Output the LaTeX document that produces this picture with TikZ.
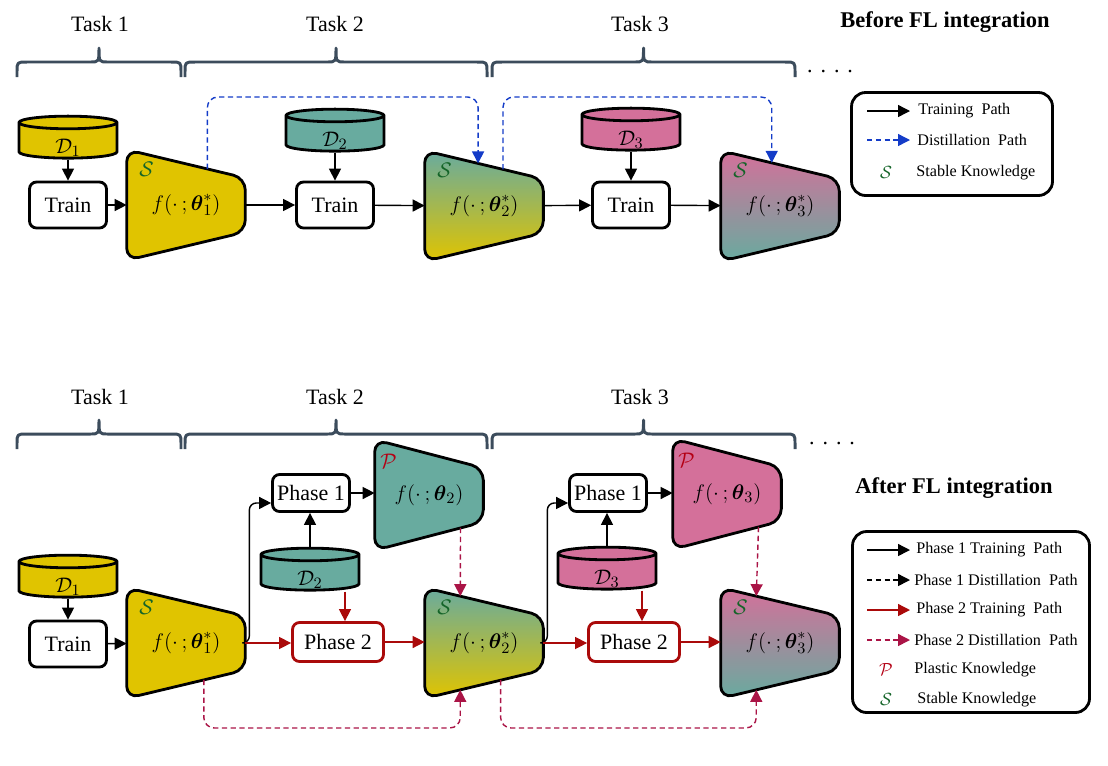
\documentclass[tikz,border=0pt]{standalone}
\usepackage{amsmath}
\usepackage[no-math]{fontspec}
\setmainfont{Liberation Serif}
\usepackage{tikz}
\usetikzlibrary{shapes.geometric, arrows.meta, positioning, calc, backgrounds}
\definecolor{ycol}{RGB}{224,196,0}
\definecolor{tcol}{RGB}{104,171,159}
\definecolor{pcol}{RGB}{212,112,154}
\definecolor{sgreen}{RGB}{20,100,40}
\definecolor{pred}{RGB}{180,0,20}
\definecolor{ptwored}{RGB}{170,10,10}
\definecolor{ptwodist}{RGB}{170,20,70}
\definecolor{dblue}{RGB}{20,60,200}
\definecolor{braceg}{RGB}{60,76,92}

% trapezoid network drawn behind a model node
\newcommand{\netshape}[2]{%
  \coordinate (#1-tr) at ($(#1.east)+(0,-27)$);
  \coordinate (#1-br) at ($(#1.east)+(0,27)$);
  \begin{pgfonlayer}{background}
    \path[draw, line width=1.6pt, rounded corners=7pt, #2]
      (#1.north west) -- (#1-tr) -- (#1-br) -- (#1.south west) -- cycle;
  \end{pgfonlayer}}
% curly brace over a task: x0, x1, y
\newcommand{\taskbrace}[3]{%
  \draw[brc] (#1,#3) -- (#1,#3-5) .. controls (#1,#3-15) .. (#1+10,#3-15)
    -- ({(#1+#2)/2-9},#3-15) .. controls ({(#1+#2)/2},#3-15) .. ({(#1+#2)/2},#3-29)
    .. controls ({(#1+#2)/2},#3-15) .. ({(#1+#2)/2+9},#3-15)
    -- (#2-10,#3-15) .. controls (#2,#3-15) .. (#2,#3-5) -- (#2,#3);}
% dataset label, set low in the cylinder
\newcommand{\dlab}[1]{\raisebox{-0.24cm}[0pt][0pt]{$\mathcal{D}_{#1}$}}

\begin{document}
\begin{tikzpicture}[x=0.02cm, y=-0.02cm,
  txt/.style={font=\fontsize{12.5}{15}\selectfont},
  legtxt/.style={anchor=west, inner sep=0pt, font=\fontsize{9.2}{11}\selectfont},
  head/.style={font=\fontsize{12.8}{15}\selectfont\bfseries},
  trainbox/.style={rectangle, rounded corners=4pt, draw, line width=1.6pt, fill=white, minimum width=1.54cm, minimum height=0.92cm, inner sep=1pt, txt},
  phaseone/.style={trainbox, minimum height=0.74cm},
  phasetwo/.style={trainbox, draw=ptwored, minimum width=1.82cm, minimum height=0.78cm},
  data/.style={cylinder, shape border rotate=90, draw, line width=1.6pt, aspect=0.5, minimum width=1.96cm, minimum height=0.84cm, inner sep=0pt, txt},
  model/.style={rectangle, minimum width=2.36cm, minimum height=2.2cm, inner sep=0pt, txt},
  knowS/.style={text=sgreen, inner sep=0pt, txt},
  knowP/.style={text=pred, inner sep=0pt, txt},
  legbox/.style={rectangle, draw, line width=1.6pt, rounded corners=8pt},
  brc/.style={draw=braceg, line width=1.7pt, line join=round},
  trainarr/.style={-{Triangle[length=2.4mm, width=2.4mm]}, line width=0.8pt},
  distarr/.style={trainarr, draw=dblue, dash pattern=on 3pt off 2pt},
  ponedist/.style={trainarr, dash pattern=on 3pt off 2pt},
  ptwoarr/.style={trainarr, draw=ptwored},
  ptwodistarr/.style={trainarr, draw=ptwodist, dash pattern=on 3pt off 2pt}
]
\useasboundingbox (0,0) rectangle (1108,765);

% ---------------- Before FL integration ----------------
\node[txt] (task1t) at (100,24) {Task 1};
\node[txt] (task2t) at (335,24) {Task 2};
\node[txt] (task3t) at (640,24) {Task 3};
\taskbrace{17}{181}{77}
\taskbrace{185}{487}{77}
\taskbrace{492}{795}{77}
\node[txt] (dotst) at (830,72) {.\hspace{1.6mm}.\hspace{1.6mm}.\hspace{1.6mm}.};
\node[head] (hbefore) at (945,22) {Before FL integration};

\node[data, fill=ycol] (d1t) at (68,141) {\dlab{1}};
\node[trainbox] (tr1t) at (68,205) {Train};
\node[model] (m1t) at (186,205) {$f(\cdot\,;\boldsymbol{\theta}^*_1)$};
\netshape{m1t}{fill=ycol}
\node[knowS] (s1t) at ($(m1t.north west)+(20,20)$) {$\mathcal{S}$};

\node[data, fill=tcol] (d2t) at (335,134) {\dlab{2}};
\node[trainbox] (tr2t) at (335,205) {Train};
\node[model] (m2t) at (484,206) {$f(\cdot\,;\boldsymbol{\theta}^*_2)$};
\netshape{m2t}{top color=tcol, bottom color=ycol}
\node[knowS] (s2t) at ($(m2t.north west)+(20,20)$) {$\mathcal{S}$};

\node[data, fill=pcol] (d3t) at (631,133) {\dlab{3}};
\node[trainbox] (tr3t) at (631,205) {Train};
\node[model] (m3t) at (780,206) {$f(\cdot\,;\boldsymbol{\theta}^*_3)$};
\netshape{m3t}{top color=pcol, bottom color=tcol}
\node[knowS] (s3t) at ($(m3t.north west)+(20,20)$) {$\mathcal{S}$};

\draw[trainarr] (d1t.south) -- (tr1t.north);
\draw[trainarr] (d2t.south) -- (tr2t.north);
\draw[trainarr] (d3t.south) -- (tr3t.north);
\draw[trainarr] (tr1t) -- (m1t);
\draw[trainarr] (m1t) -- (tr2t);
\draw[trainarr] (tr2t) -- (m2t);
\draw[trainarr] (m2t) -- (tr3t);
\draw[trainarr] (tr3t) -- (m3t);

\coordinate (toprow) at (0,97);
\coordinate (m1t-out) at ($(m1t.north west)!0.68!(m1t-tr)$);
\coordinate (m2t-in) at ($(m2t.north west)!0.45!(m2t-tr)$);
\coordinate (m2t-out) at ($(m2t.north west)!0.66!(m2t-tr)$);
\coordinate (m3t-in) at ($(m3t.north west)!0.43!(m3t-tr)$);
\draw[distarr, rounded corners=6pt] (m1t-out) |- (toprow -| m2t-in) -- (m2t-in);
\draw[distarr, rounded corners=6pt] (m2t-out) |- (toprow -| m3t-in) -- (m3t-in);

% legend
\node[legbox, minimum width=4.02cm, minimum height=2.06cm] (legtop) at (952,144) {};
\coordinate (lt1a) at (867,111); \coordinate (lt1b) at (910,111);
\coordinate (lt2a) at (867,140); \coordinate (lt2b) at (910,140);
\draw[trainarr] (lt1a) -- (lt1b);
\draw[distarr] (lt2a) -- (lt2b);
\node[legtxt] (lt1) at (918,111) {Training~ Path};
\node[legtxt] (lt2) at (917,140) {Distillation~ Path};
\node[knowS, font=\fontsize{10}{12}\selectfont] (lt3s) at (886,172) {$\mathcal{S}$};
\node[legtxt] (lt3) at (916,173) {Stable Knowledge};

% ---------------- After FL integration ----------------
\node[txt] (task1b) at (100,397) {Task 1};
\node[txt] (task2b) at (335,397) {Task 2};
\node[txt] (task3b) at (640,397) {Task 3};
\taskbrace{17}{181}{449}
\taskbrace{185}{487}{449}
\taskbrace{492}{795}{449}
\node[txt] (dotsb) at (832,444) {.\hspace{1.6mm}.\hspace{1.6mm}.\hspace{1.6mm}.};
\node[head] (hafter) at (954,488) {After FL integration};

\node[data, fill=ycol] (d1b) at (68,580) {\dlab{1}};
\node[trainbox] (tr1b) at (68,644) {Train};
\node[model] (m1b) at (186,643) {$f(\cdot\,;\boldsymbol{\theta}^*_1)$};
\netshape{m1b}{fill=ycol}
\node[knowS] (s1b) at ($(m1b.north west)+(20,20)$) {$\mathcal{S}$};

\node[phaseone] (ph1a) at (311,493) {Phase 1};
\node[model, minimum width=2.16cm] (pm2) at (429,495) {$f(\cdot\,;\boldsymbol{\theta}_2)$};
\netshape{pm2}{fill=tcol}
\node[knowP] (p2) at ($(pm2.north west)+(14,22)$) {$\mathcal{P}$};
\node[data, fill=tcol] (d2b) at (310,573) {\dlab{2}};
\node[phasetwo] (ph2a) at (338,642) {Phase 2};
\node[model] (m2b) at (484,643) {$f(\cdot\,;\boldsymbol{\theta}^*_2)$};
\netshape{m2b}{top color=tcol, bottom color=ycol}
\node[knowS] (s2b) at ($(m2b.north west)+(20,20)$) {$\mathcal{S}$};

\node[phaseone] (ph1b) at (608,493) {Phase 1};
\node[model, minimum width=2.16cm] (pm3) at (727,494) {$f(\cdot\,;\boldsymbol{\theta}_3)$};
\netshape{pm3}{fill=pcol}
\node[knowP] (p3) at ($(pm3.north west)+(14,22)$) {$\mathcal{P}$};
\node[data, fill=pcol] (d3b) at (607,572) {\dlab{3}};
\node[phasetwo] (ph2b) at (634,642) {Phase 2};
\node[model] (m3b) at (780,643) {$f(\cdot\,;\boldsymbol{\theta}^*_3)$};
\netshape{m3b}{top color=pcol, bottom color=tcol}
\node[knowS] (s3b) at ($(m3b.north west)+(20,20)$) {$\mathcal{S}$};

\draw[trainarr] (d1b.south) -- (tr1b.north);
\draw[trainarr] (tr1b) -- (m1b);
% phase 1 paths
\draw[trainarr, rounded corners=4pt] (m1b.east) -- ++(4,0) |- ($(ph1a.south west)!0.25!(ph1a.north west)$);
\draw[trainarr, rounded corners=4pt] (m2b.east) -- ++(4,0) |- ($(ph1b.south west)!0.25!(ph1b.north west)$);
\draw[trainarr] (d2b.north) -- (d2b.north |- ph1a.south);
\draw[trainarr] (d3b.north) -- (d3b.north |- ph1b.south);
\draw[trainarr] (ph1a.east) -- (ph1a.east -| pm2.west);
\draw[trainarr] (ph1b.east) -- (ph1b.east -| pm3.west);
% phase 2 paths
\draw[ptwoarr] (m1b.east) -- (m1b.east -| ph2a.west);
\draw[ptwoarr] (m2b.east) -- (m2b.east -| ph2b.west);
\draw[ptwoarr] ([xshift=0.7cm]d2b.south) -- ([xshift=0.7cm]d2b.south |- ph2a.north);
\draw[ptwoarr] ([xshift=0.7cm]d3b.south) -- ([xshift=0.7cm]d3b.south |- ph2b.north);
\draw[ptwoarr] (ph2a.east) -- (ph2a.east -| m2b.west);
\draw[ptwoarr] (ph2b.east) -- (ph2b.east -| m3b.west);
% distillation
\coordinate (pm2-out) at ($(pm2.south west)!0.79!(pm2-br)$);
\coordinate (m2b-in) at ($(m2b.north west)!0.3!(m2b-tr)$);
\coordinate (pm3-out) at ($(pm3.south west)!0.79!(pm3-br)$);
\coordinate (m3b-in) at ($(m3b.north west)!0.3!(m3b-tr)$);
\draw[ptwodistarr] (pm2-out) -- (m2b-in);
\draw[ptwodistarr] (pm3-out) -- (m3b-in);
\coordinate (lowrow) at (0,728);
\coordinate (m1b-out) at ($(m1b.south west)!0.65!(m1b-br)$);
\coordinate (m2b-low) at ($(m2b.south west)!0.3!(m2b-br)$);
\coordinate (m2b-out) at ($(m2b.south west)!0.64!(m2b-br)$);
\coordinate (m3b-low) at ($(m3b.south west)!0.3!(m3b-br)$);
\draw[ptwodistarr, rounded corners=6pt] (m1b-out) |- (lowrow -| m2b-low) -- (m2b-low);
\draw[ptwodistarr, rounded corners=6pt] (m2b-out) |- (lowrow -| m3b-low) -- (m3b-low);

% legend
\node[legbox, minimum width=4.74cm, minimum height=3.62cm] (legbot) at (971,622) {};
\coordinate (lb1a) at (867,550); \coordinate (lb1b) at (910,550);
\coordinate (lb2a) at (867,580); \coordinate (lb2b) at (910,580);
\coordinate (lb3a) at (867,610); \coordinate (lb3b) at (910,610);
\coordinate (lb4a) at (867,640); \coordinate (lb4b) at (910,640);
\draw[trainarr] (lb1a) -- (lb1b);
\draw[ponedist] (lb2a) -- (lb2b);
\draw[ptwoarr] (lb3a) -- (lb3b);
\draw[ptwodistarr] (lb4a) -- (lb4b);
\node[legtxt] (lb1) at (916,550) {Phase 1 Training~ Path};
\node[legtxt] (lb2) at (914,580) {Phase 1 Distillation~ Path};
\node[legtxt] (lb3) at (916,610) {Phase 2 Training~ Path};
\node[legtxt] (lb4) at (914,640) {Phase 2 Distillation~ Path};
\node[knowP, font=\fontsize{10}{12}\selectfont] (lb5p) at (886,669) {$\mathcal{P}$};
\node[legtxt] (lb5) at (914,670) {Plastic Knowledge};
\node[knowS, font=\fontsize{10}{12}\selectfont] (lb6s) at (886,699) {$\mathcal{S}$};
\node[legtxt] (lb6) at (917,700) {Stable Knowledge};
\end{tikzpicture}
\end{document}
